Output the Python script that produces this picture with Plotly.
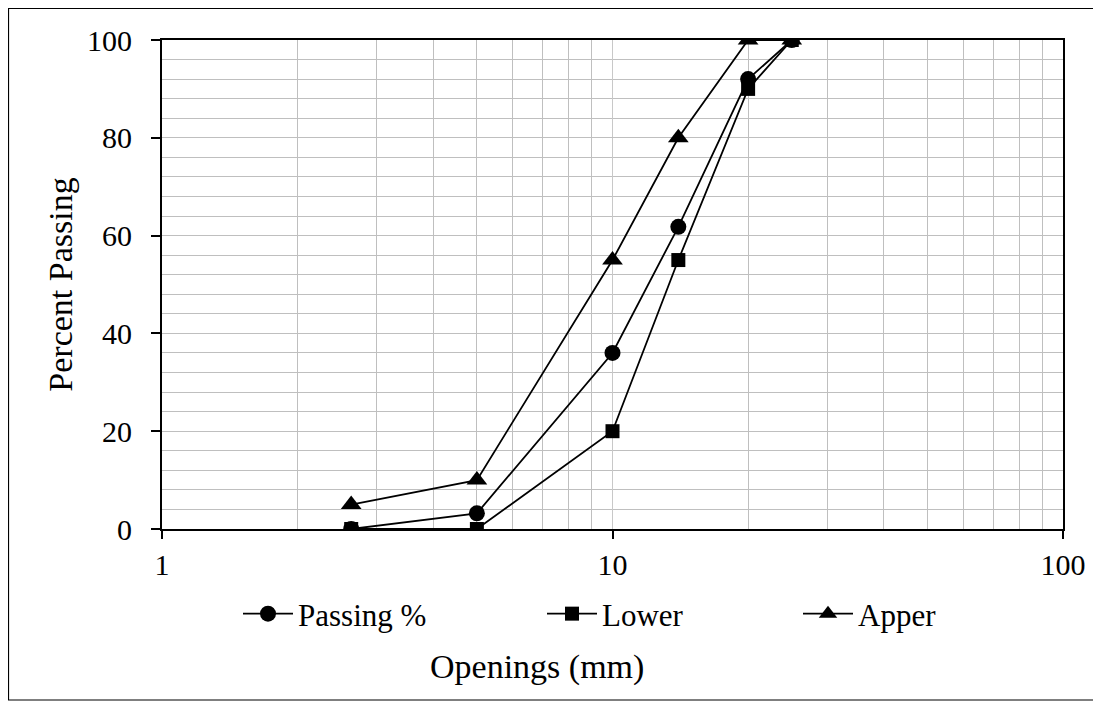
import plotly.graph_objects as go

openings = [2.63, 5, 10, 14, 20, 25]
passing = [0, 3.2, 36, 61.8, 92, 100]
lower = [0, 0, 20, 55, 90, 100]
apper = [5, 10, 55, 80, 100, 100]
x_ticks = [1, 10, 100]
x_minor = [2, 3, 4, 5, 6, 7, 8, 9, 20, 30, 40, 50, 60, 70, 80, 90]

FONT = "Liberation Serif"
# page body has an 8px margin; figure coordinates = screen - 8
W, H = 1093, 696
L, R, T, B = 154, 38, 32, 175
PW = W - L - R
PH = H - T - B


def px2x(px):
    return (px - L) / PW


def px2y(py):
    return (H - B - py) / PH


fig = go.Figure()
series = [
    ("Passing %", passing, "circle", 16, "legend"),
    ("Lower", lower, "square", 14, "legend2"),
    ("Apper", apper, "triangle-up", 18, "legend3"),
]
for name, vals, sym, size, leg in series:
    fig.add_trace(go.Scatter(
        x=openings, y=vals, name=name, mode="lines+markers",
        line=dict(color="black", width=1.8),
        marker=dict(symbol=sym, size=size, color="black"),
        legend=leg,
    ))

leg_common = dict(orientation="h", yanchor="middle", xanchor="left",
                  y=px2y(606), bgcolor="rgba(0,0,0,0)", borderwidth=0,
                  font=dict(family=FONT, size=31, color="black"),
                  itemwidth=50, tracegroupgap=0)
fig.update_layout(
    width=W, height=H,
    margin=dict(l=L, r=R, t=T, b=B),
    paper_bgcolor="white", plot_bgcolor="white",
    font=dict(family=FONT, size=30, color="black"),
    showlegend=True,
    legend=dict(x=px2x(230), **leg_common),
    legend2=dict(x=px2x(534), **leg_common),
    legend3=dict(x=px2x(790), **leg_common),
    xaxis=dict(
        type="log", range=[0, 2],
        tickvals=x_ticks, ticktext=[str(v) for v in x_ticks],
        ticks="outside", ticklen=8, tickwidth=2, tickcolor="black",
        showline=True, linecolor="black", linewidth=2, mirror=True,
        showgrid=True, gridcolor="#C8C8C8", gridwidth=1.3,
        minor=dict(tickvals=x_minor, showgrid=True, gridcolor="#BFBFBF",
                   gridwidth=1.3, ticks=""),
        tickfont=dict(family=FONT, size=30, color="black"),
        ticklabelstandoff=0,
        zeroline=False,
    ),
    yaxis=dict(
        range=[0, 100], dtick=20,
        ticks="outside", ticklen=9, tickwidth=2, tickcolor="black",
        showline=True, linecolor="black", linewidth=2, mirror=True,
        showgrid=True, gridcolor="#BFBFBF", gridwidth=1.3,
        minor=dict(dtick=4, showgrid=True, gridcolor="#BFBFBF",
                   gridwidth=1.3, ticks=""),
        tickfont=dict(family=FONT, size=30, color="black"),
        ticklabelstandoff=13,
        title=dict(text="Percent Passing", standoff=4,
                   font=dict(family=FONT, size=34, color="black")),
        zeroline=False,
    ),
    annotations=[dict(text="Openings (mm)", xref="paper", yref="paper",
                      x=px2x(529), y=px2y(659), xanchor="center",
                      yanchor="middle", showarrow=False,
                      font=dict(family=FONT, size=34, color="black"))],
    shapes=[dict(type="rect", xref="paper", yref="paper",
                 x0=px2x(0.5), x1=px2x(1089), y0=px2y(692), y1=px2y(0.5),
                 line=dict(color="black", width=1.2), layer="below")],
)

fig.write_html("out.html")
